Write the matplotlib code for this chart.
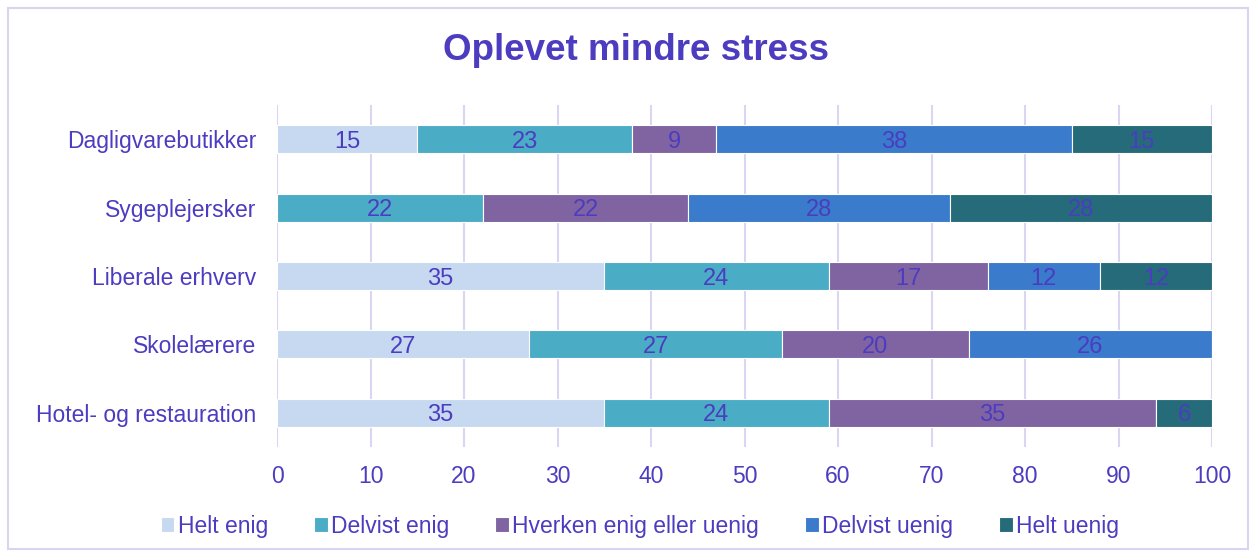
import matplotlib.pyplot as plt
import numpy as np

plt.rcParams['font.family'] = ['Liberation Sans', 'DejaVu Sans']

categories = ["Dagligvarebutikker", "Sygeplejersker", "Liberale erhverv",
              "Skolelærere", "Hotel- og restauration"]
series = ["Helt enig", "Delvist enig", "Hverken enig eller uenig",
          "Delvist uenig", "Helt uenig"]
helt_enig = [15, 0, 35, 27, 35]
delvist_enig = [23, 22, 24, 27, 24]
hverken = [9, 22, 17, 20, 35]
delvist_uenig = [38, 28, 12, 26, 0]
helt_uenig = [15, 28, 12, 0, 6]
values = [helt_enig, delvist_enig, hverken, delvist_uenig, helt_uenig]
colors = ["#C6D9F0", "#4BACC6", "#8064A2", "#3A7BCB", "#266B7A"]

txt = "#4B3CC0"
grid = "#DAD5F2"

fig = plt.figure(figsize=(12.52, 5.57), dpi=100)
ax = fig.add_axes([277 / 1252, 1 - 447 / 557, 935 / 1252, 342 / 557])

y = np.arange(len(categories))
left = np.zeros(len(categories))
for name, vals, col in zip(series, values, colors):
    vals = np.array(vals, dtype=float)
    bars = ax.barh(y, vals, left=left, height=0.41, color=col, label=name,
                   edgecolor="white", linewidth=0.8, zorder=3)
    for b, v in zip(bars, vals):
        if v > 0:
            ax.text(b.get_x() + b.get_width() / 2, b.get_y() + b.get_height() / 2,
                    f"{int(v)}", ha="center", va="center_baseline", color=txt,
                    fontsize=17, zorder=4)
    left += vals

ax.set_xlim(0, 100)
ax.set_ylim(len(categories) - 0.5, -0.5)
ax.set_yticks(y)
ax.set_yticklabels(categories)
ax.set_xticks(range(0, 101, 10))
ax.xaxis.grid(True, color=grid, linewidth=1.5, zorder=0)
ax.set_axisbelow(True)
for s in ax.spines.values():
    s.set_visible(False)
ax.tick_params(axis="both", length=0, colors=txt, labelsize=16.5)
ax.tick_params(axis="y", pad=15)
ax.tick_params(axis="x", pad=13)

fig.text(0.508, 1 - 51 / 557, "Oplevet mindre stress", ha="center", va="center",
         fontsize=26.5, fontweight="bold", color=txt)

fig.legend(loc="center", bbox_to_anchor=(0.511, 1 - 526 / 557), ncol=5,
           frameon=False, fontsize=16.5, labelcolor=txt, handlelength=0.6,
           handleheight=0.6, handletextpad=0.15, columnspacing=2.0)

border = plt.Rectangle((8 / 1252, 1 - 549 / 557), 1240 / 1252, 541 / 557,
                       transform=fig.transFigure, fill=False,
                       edgecolor="#D9D4F0", linewidth=1.5)
fig.patches.append(border)

fig.savefig("out.png", dpi=100)
